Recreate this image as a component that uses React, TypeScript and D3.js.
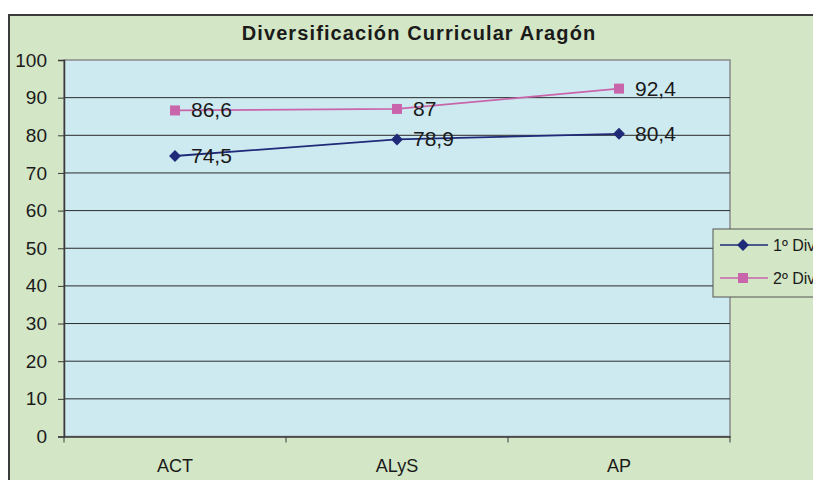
import React, { useRef, useEffect } from 'react';
import * as d3 from 'd3';

const categories = ['ACT', 'ALyS', 'AP'];
const serie1 = [74.5, 78.9, 80.4];
const serie2 = [86.6, 87, 92.4];
const seriesNames = ['1º Diversificación', '2º Diversificación'];
const yTicks = [0, 10, 20, 30, 40, 50, 60, 70, 80, 90, 100];

function App() {
  const ref = useRef<SVGSVGElement>(null);

  useEffect(() => {
    const svg = d3.select(ref.current);
    svg.selectAll('*').remove();

    const width = 813, height = 480;
    const font = 'Arial, "Liberation Sans", sans-serif';

    // outer chart area
    svg.append('rect')
      .attr('x', 9).attr('y', 15)
      .attr('width', width + 20).attr('height', height + 20)
      .attr('fill', '#d3e6c5')
      .attr('stroke', '#3c3c3c').attr('stroke-width', 2);

    svg.append('text')
      .attr('x', 419).attr('y', 40)
      .attr('text-anchor', 'middle')
      .attr('font-family', font).attr('font-weight', 'bold').attr('font-size', 20)
      .attr('letter-spacing', 1.1)
      .attr('fill', '#1a1a1a')
      .text('Diversificación Curricular Aragón');

    const x = d3.scaleBand().domain(categories).range([64, 730]);
    const y = d3.scaleLinear().domain([0, 100]).range([436.5, 60]);

    svg.append('rect')
      .attr('x', 64).attr('y', 60)
      .attr('width', 666).attr('height', 376.5)
      .attr('fill', '#cdeaf1')
      .attr('stroke', '#8a8a8a').attr('stroke-width', 1.5);

    // grid lines
    svg.append('g')
      .selectAll('line')
      .data(yTicks.filter((t) => t > 0 && t < 100))
      .join('line')
      .attr('x1', 64).attr('x2', 730)
      .attr('y1', (d) => y(d)).attr('y2', (d) => y(d))
      .attr('stroke', '#2a2a2a').attr('stroke-width', 1);

    // y axis
    const yAxis = svg.append('g')
      .attr('transform', 'translate(64,0)')
      .call(d3.axisLeft(y).tickValues(yTicks).tickSize(6).tickPadding(11));
    yAxis.select('.domain').attr('stroke', '#3a3a3a').attr('stroke-width', 1.5);
    yAxis.selectAll('.tick line').attr('stroke', '#3a3a3a');
    yAxis.selectAll('text')
      .attr('font-family', font).attr('font-size', 19).attr('fill', '#1a1a1a');

    // x axis
    const xAxis = svg.append('g')
      .attr('transform', 'translate(0,436.5)')
      .call(d3.axisBottom(x).tickSize(0).tickPadding(23));
    xAxis.select('.domain').attr('stroke', '#3a3a3a').attr('stroke-width', 1.5);
    xAxis.selectAll('text')
      .attr('font-family', font).attr('font-size', 18).attr('fill', '#1a1a1a');
    const bounds = [64, 286, 508, 730];
    xAxis.append('g').selectAll('line')
      .data(bounds)
      .join('line')
      .attr('x1', (d) => d).attr('x2', (d) => d)
      .attr('y1', 0).attr('y2', 6)
      .attr('stroke', '#3a3a3a');

    const cx = (c: string) => (x(c) as number) + x.bandwidth() / 2;

    const line = d3.line<number>()
      .x((d, i) => cx(categories[i]))
      .y((d) => y(d));

    const colors = ['#1f2a78', '#c965aa'];
    const data = [serie1, serie2];

    data.forEach((vals, s) => {
      svg.append('path')
        .datum(vals)
        .attr('fill', 'none')
        .attr('stroke', colors[s])
        .attr('stroke-width', 1.8)
        .attr('d', line);

      const g = svg.append('g');
      vals.forEach((v, i) => {
        const px = cx(categories[i]);
        const py = y(v);
        if (s === 0) {
          g.append('path')
            .attr('d', d3.symbol(d3.symbolDiamond2, 90)())
            .attr('transform', `translate(${px},${py})`)
            .attr('fill', colors[s]);
        } else {
          g.append('rect')
            .attr('x', px - 5).attr('y', py - 5)
            .attr('width', 10).attr('height', 10)
            .attr('fill', colors[s]);
        }
        g.append('text')
          .attr('x', px + 16).attr('y', py + 7)
          .attr('font-family', font).attr('font-size', 21)
          .attr('fill', '#1a1a1a')
          .text(String(v).replace('.', ','));
      });
    });

    // legend
    const lg = svg.append('g');
    lg.append('rect')
      .attr('x', 713).attr('y', 229)
      .attr('width', 200).attr('height', 68)
      .attr('fill', '#d3e6c5')
      .attr('stroke', '#555').attr('stroke-width', 1);
    seriesNames.forEach((name, s) => {
      const ly = 245 + s * 33;
      lg.append('line')
        .attr('x1', 720).attr('x2', 768)
        .attr('y1', ly).attr('y2', ly)
        .attr('stroke', colors[s]).attr('stroke-width', 1.5);
      if (s === 0) {
        lg.append('path')
          .attr('d', d3.symbol(d3.symbolDiamond2, 90)())
          .attr('transform', `translate(743,${ly})`)
          .attr('fill', colors[s]);
      } else {
        lg.append('rect')
          .attr('x', 738).attr('y', ly - 5)
          .attr('width', 10).attr('height', 10)
          .attr('fill', colors[s]);
      }
      lg.append('text')
        .attr('x', 773).attr('y', ly + 6)
        .attr('font-family', font).attr('font-size', 16)
        .attr('fill', '#1a1a1a')
        .text(name);
    });
  }, []);

  return (
    <svg
      ref={ref}
      width={813}
      height={480}
      style={{ position: 'absolute', left: 0, top: 0, background: '#ffffff' }}
    ></svg>
  );
}

export default App;
